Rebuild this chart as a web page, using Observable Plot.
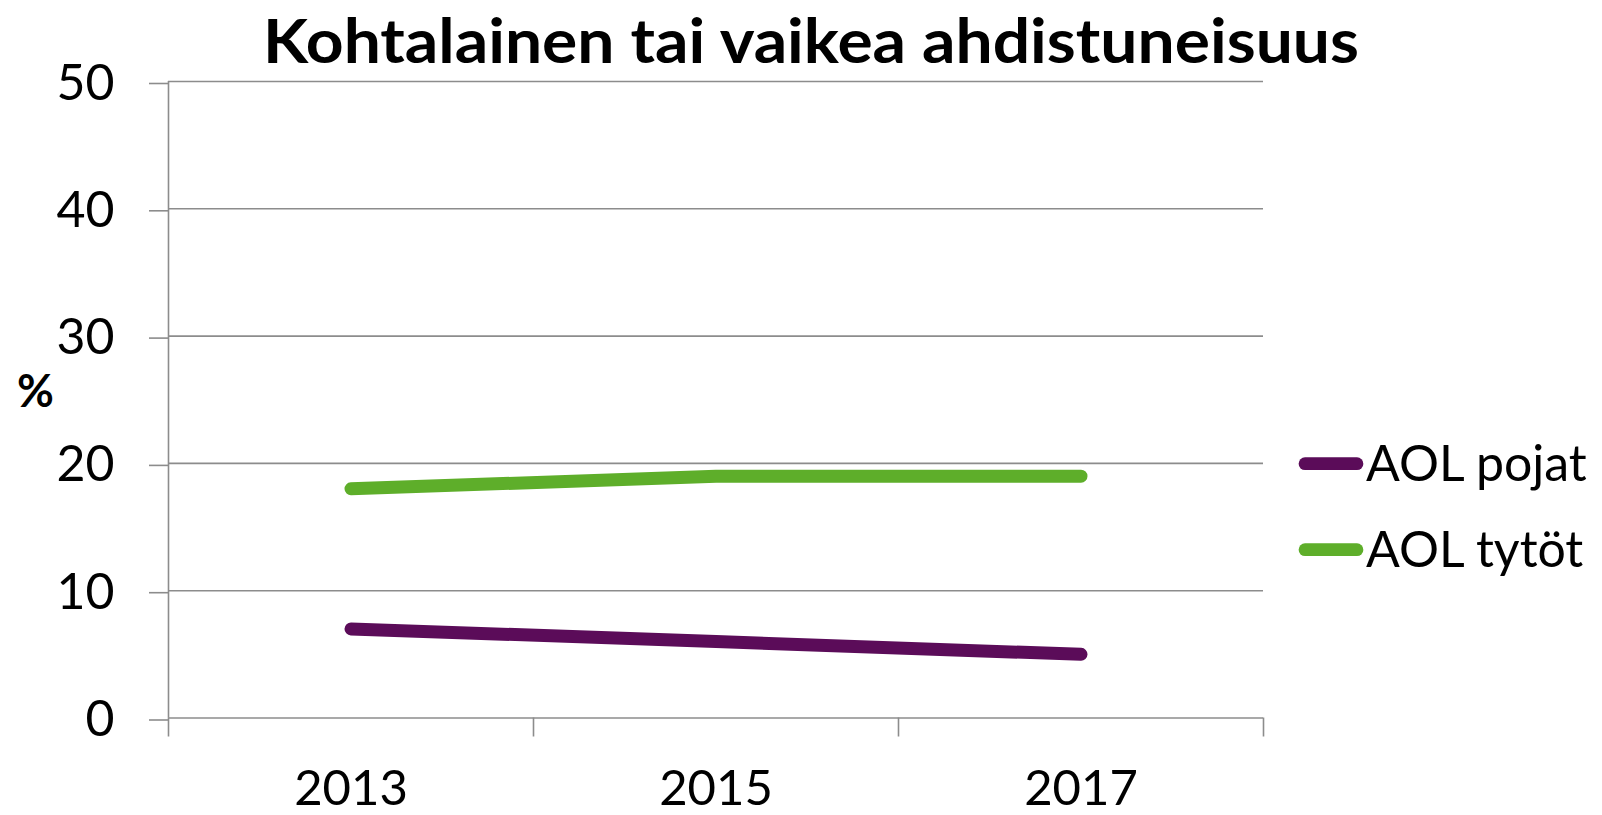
<!DOCTYPE html>
<html>
<head>
<meta charset="utf-8">
<script src="https://cdn.jsdelivr.net/npm/d3@7"></script>
<script src="https://cdn.jsdelivr.net/npm/@observablehq/plot@0.6"></script>
<style>
  html, body { margin: 0; padding: 0; background: #fff; overflow: hidden; }
  #chart { position: relative; width: 1602px; height: 815px; }
  #chart svg { position: absolute; left: 0; top: 0; }
</style>
</head>
<body>
<div id="chart"></div>
<script>
// ---- data ----
const titleText = "Kohtalainen tai vaikea ahdistuneisuus";
const yLabel = "%";
const years = [2013, 2015, 2017];
const seriesNames = ["AOL pojat", "AOL tytöt"];
const pojat = [7, 6, 5];
const tytot = [18, 19, 19];
const seriesColors = ["#5B0C59", "#5EAE2A"];
const yTicks = [0, 10, 20, 30, 40, 50];
const xBoundaryTicks = [2012, 2014, 2016, 2018];

const rows = [
  ...years.map((yr, i) => ({year: yr, value: pojat[i], series: seriesNames[0]})),
  ...years.map((yr, i) => ({year: yr, value: tytot[i], series: seriesNames[1]}))
];

const gray = "#8c8c8c";
const font = "Lato, 'Open Sans', sans-serif";

const plot = Plot.plot({
  width: 1602,
  height: 815,
  marginLeft: 168,
  marginRight: 339,
  marginTop: 81,
  marginBottom: 97.5,
  style: {fontFamily: font, background: "transparent", overflow: "visible"},
  x: {type: "linear", domain: [2012, 2018]},
  y: {domain: [0, 50]},
  color: {domain: seriesNames, range: seriesColors},
  marks: [
    Plot.ruleY(yTicks, {stroke: gray, strokeWidth: 1.6}),
    Plot.ruleX([xBoundaryTicks[0]], {stroke: gray, strokeWidth: 1.6}),
    Plot.axisY({ticks: yTicks, tickSize: 19, tickPadding: 35, fontSize: 50, stroke: gray, strokeWidth: 1.6, fill: "#000", label: null, dy: 2}),
    Plot.axisX({ticks: xBoundaryTicks, tickSize: 19, tickFormat: () => "", stroke: gray, strokeWidth: 1.6, label: null}),
    Plot.axisX({ticks: years, tickSize: 0, tickPadding: 52, tickFormat: d => String(d), fontSize: 49, fill: "#000", label: null}),
    Plot.line(rows, {x: "year", y: "value", z: "series", stroke: "series", strokeWidth: 13, strokeLinecap: "round", strokeLinejoin: "round"}),
    Plot.text([yLabel], {frameAnchor: "left", textAnchor: "middle", dx: -133, dy: -7, fontSize: 45, fontWeight: "bold", fill: "#000"})
  ]
});

const container = document.getElementById("chart");
container.appendChild(plot);

// Title
d3.select(plot).append("text")
  .attr("x", 811)
  .attr("y", 63)
  .attr("text-anchor", "middle")
  .attr("font-family", font)
  .attr("font-weight", "bold")
  .attr("font-size", 62)
  .attr("fill", "#000")
  .attr("textLength", 1096)
  .attr("lengthAdjust", "spacingAndGlyphs")
  .text(titleText);

// Legend
const legend = d3.create("svg")
  .attr("width", 1602)
  .attr("height", 815)
  .style("position", "absolute")
  .style("left", "0px")
  .style("top", "0px")
  .attr("font-family", font);

const legendY = [463.7, 549.7];
seriesNames.forEach((name, i) => {
  const g = legend.append("g");
  g.append("line")
    .attr("x1", 1305).attr("x2", 1357)
    .attr("y1", legendY[i]).attr("y2", legendY[i])
    .attr("stroke", seriesColors[i])
    .attr("stroke-width", 12.7)
    .attr("stroke-linecap", "round");
  g.append("text")
    .attr("x", 1366)
    .attr("y", legendY[i] + 17)
    .attr("font-size", 50)
    .attr("fill", "#000")
    .text(name);
});
container.appendChild(legend.node());
</script>
</body>
</html>
